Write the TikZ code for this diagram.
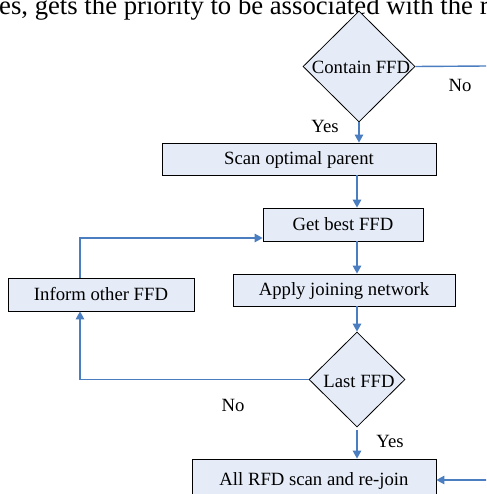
\documentclass[tikz,border=0pt]{standalone}
\usepackage{fontspec}
\setmainfont{Liberation Serif}
\usetikzlibrary{shapes.geometric,arrows.meta}
\definecolor{boxfill}{RGB}{229,236,247}
\definecolor{flow}{RGB}{74,126,193}
\begin{document}
\begin{tikzpicture}[x=1pt,y=-1pt,
  every node/.style={font=\fontsize{18.7}{22}\selectfont, inner sep=0pt},
  stepbox/.style={draw=black, line width=0.8pt, fill=boxfill, rectangle, text depth=1pt},
  decision/.style={draw=black, line width=0.8pt, fill=boxfill, diamond},
  conn/.style={draw=flow, line width=1.4pt},
  arr/.style={conn, -{Triangle[length=8pt,width=8.5pt]}}]
\clip (0,0) rectangle (486,494);
\fill[white] (0,0) rectangle (486,494);

% running text of the page above the figure
\node[anchor=base west, font=\fontsize{26.7}{30}\selectfont] (para) at (-1,15)
  {es, gets the priority to be associated with the r};

% reference x for the vertical flow
\coordinate (sp) at (357,0);
\coordinate (lx) at (80,0);
\coordinate (gy) at (0,238);

% shapes
\node[decision, minimum width=112, minimum height=111] (c1) at (359,66.5) {};
\node (c1t) at (361,67) {Contain FFD};
\node[stepbox, minimum width=274, minimum height=32] (scan) at (299,159) {Scan optimal parent};
\node[stepbox, minimum width=160, minimum height=33] (get) at (343,224.5) {Get best FFD};
\node[stepbox, minimum width=222, minimum height=32] (apply) at (344,290) {Apply joining network};
\node[stepbox, minimum width=186, minimum height=33] (inform) at (101,294.5) {Inform other FFD};
\node[decision, minimum width=96, minimum height=95] (last) at (357,379.5) {};
\node (lastt) at (359,381) {Last FFD};
\node[stepbox, minimum width=244, minimum height=44] (rfd) at (314,481) {};
\node (rfdt) at (314,481) {All RFD scan and re-join};

% off-page ends
\coordinate (ce) at (487,66);
\coordinate (re) at (487,480);

% connectors
\draw[conn] (c1.east) -- (ce);
\draw[arr] (c1.south) -- (c1.south |- scan.north);
\draw[arr] (scan.south -| sp) -- (get.north -| sp);
\draw[arr] (get.south -| sp) -- (apply.north -| sp);
\draw[arr] (apply.south -| sp) -- (last.north);
\draw[arr] (last.west) -| (inform.south -| lx);
\draw[arr] (inform.north -| lx) |- (get.west |- gy);
\draw[arr, shorten <=3pt] (last.south) -- (rfd.north -| last.south);
\draw[arr] (re) -- (rfd.east |- re);

% branch labels
\node (no1) at (460,85) {No};
\node (yes1) at (325,126) {Yes};
\node (no2) at (233,405) {No};
\node (yes2) at (390,441) {Yes};
\end{tikzpicture}
\end{document}
